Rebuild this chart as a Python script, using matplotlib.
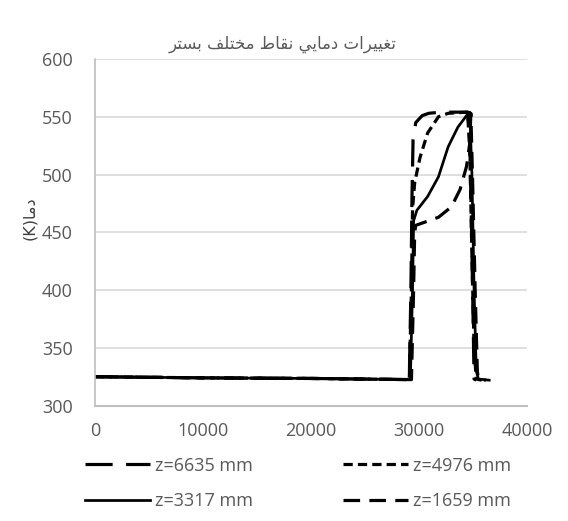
import matplotlib
matplotlib.use("Agg")
import matplotlib.pyplot as plt

# ---------------- data ----------------
x_6635 = [0, 10000, 20000, 29100, 29250, 29350, 29450, 29700, 30300, 30900, 32000, 34500,
          34700, 34850, 35000, 35100, 35300]
y_6635 = [325, 324, 323.5, 322.5, 400, 480, 530, 545, 551, 553, 554, 554,
          530, 460, 380, 323, 322]

x_4976 = [0, 10000, 20000, 29100, 29300, 29400, 29600, 30100, 30800, 31800, 32700, 34500,
          34700, 34900, 35100, 35300, 35800]
y_4976 = [325, 324, 323.5, 322.5, 400, 470, 493, 515, 536, 550, 553, 554,
          520, 430, 350, 323, 322]

x_3317 = [0, 10000, 20000, 29200, 29400, 29500, 29800, 30800, 31800, 32700, 33600, 34400,
          34700, 34900, 35100, 35300, 35500, 36500]
y_3317 = [325, 324, 323.5, 322.5, 400, 460, 469, 481, 498, 524, 541, 551,
          554, 500, 400, 330, 323, 322]

x_1659 = [0, 10000, 20000, 29300, 29500, 29600, 29700, 30600, 31800, 33000, 33800, 34400,
          34700, 34800, 34950, 35200, 35400, 35500, 36200]
y_1659 = [325, 324, 323.5, 322.5, 400, 450, 456, 459, 463, 472, 487, 507,
          527, 553, 500, 400, 330, 323, 322]

labels = ["z=6635 mm", "z=4976 mm", "z=3317 mm", "z=1659 mm"]
x_ticks = [0, 10000, 20000, 30000, 40000]
y_ticks = [300, 350, 400, 450, 500, 550, 600]

# pre-shaped Persian text (presentation forms, visual order)
title_txt = ("\uFEAE\uFE98\uFEB4\uFE91" + " " +
             "\uFED2\uFEE0\uFE98\uFEA8\uFEE3" + " " +
             "\uFEC1\uFE8E\uFED8\uFEE7" + " " +
             "\uFEF2\uFEF3\uFE8E\uFEE3\uFEA9" + " " +
             "\uFE95\uFE8D\uFEAE\uFEF4\uFEF4\uFED0\uFE97")
ylabel_txt = "(K)" + "\uFE8E\uFEE3\uFEA9"

# ---------------- figure ----------------
W, H = 568, 521
fig = plt.figure(figsize=(W / 100, H / 100), dpi=100)
ax = fig.add_axes([95 / W, 1 - 405.6 / H, (527 - 95) / W, (405.6 - 59) / H])

txt_col = "#595959"
font = "Open Sans"
lw = 2.3

l1, = ax.plot(x_6635, y_6635, color="black", lw=lw, dashes=(8.5, 4.2), label=labels[0])
l2, = ax.plot(x_4976, y_4976, color="black", lw=lw, dashes=(2.9, 1.6), label=labels[1])
l3, = ax.plot(x_3317, y_3317, color="black", lw=lw * 0.85, label=labels[2])
l4, = ax.plot(x_1659, y_1659, color="black", lw=lw, dashes=(5.2, 2.9), label=labels[3])

ax.set_xlim(0, 40000)
ax.set_ylim(300, 600)
ax.set_xticks(x_ticks)
ax.set_yticks(y_ticks)
ax.set_xticklabels([str(v) for v in x_ticks], fontfamily=font, fontsize=13, color=txt_col)
ax.set_yticklabels([str(v) for v in y_ticks], fontfamily=font, fontsize=13, color=txt_col)
ax.tick_params(axis="both", length=0)
ax.tick_params(axis="y", pad=16)
ax.tick_params(axis="x", pad=12)

ax.grid(axis="y", color="#d9d9d9", lw=1.2)
ax.set_axisbelow(True)
for s in ["top", "right"]:
    ax.spines[s].set_visible(False)
ax.spines["left"].set_color("#bfbfbf")
ax.spines["bottom"].set_color("#bfbfbf")
ax.spines["left"].set_linewidth(1.2)
ax.spines["bottom"].set_linewidth(1.5)

fig.text(283 / W, 1 - 44 / H, title_txt, family=["DejaVu Sans"], fontsize=12,
         color=txt_col, ha="center", va="center")
fig.text(30 / W, 1 - 218 / H, ylabel_txt, family=["DejaVu Sans"], fontsize=11.5,
         color="#404040", rotation=90, ha="center", va="center")

handles = [l1, l3, l2, l4]
leg = ax.legend(handles, [h.get_label() for h in handles], loc="upper left",
                bbox_to_anchor=(-0.022, -0.147), ncol=2, frameon=False,
                prop={"family": font, "size": 13}, handlelength=3.6, handletextpad=0.25,
                columnspacing=5.0, labelspacing=0.97, borderaxespad=0, borderpad=0)
for t in leg.get_texts():
    t.set_color(txt_col)

fig.savefig("out.png", dpi=100)
